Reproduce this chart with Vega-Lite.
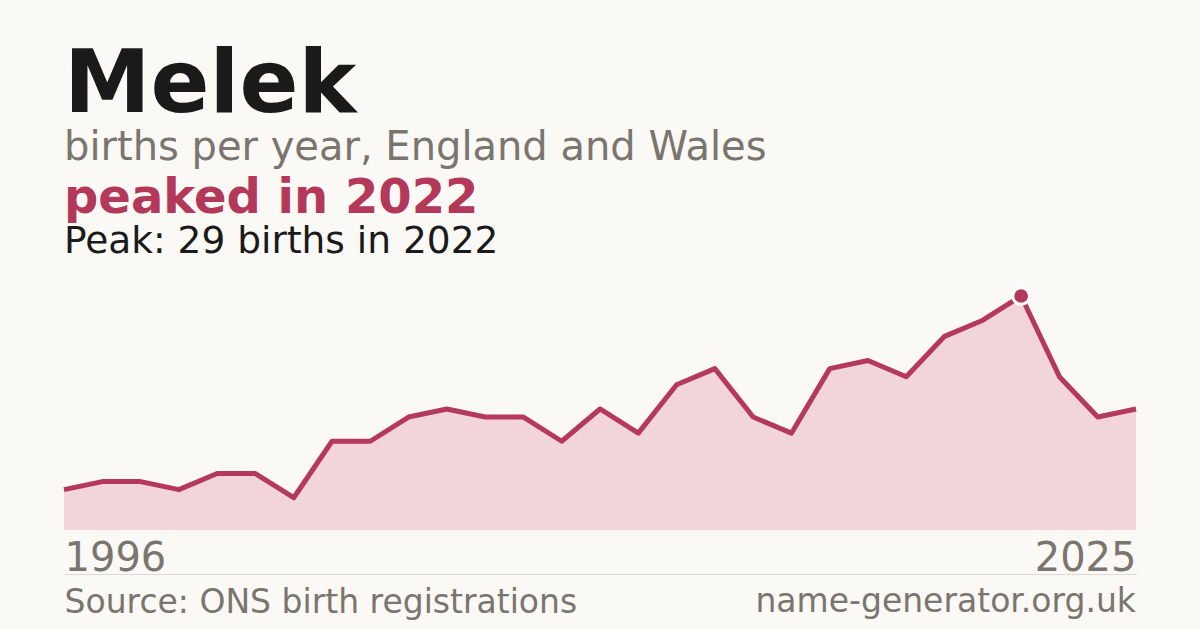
{
  "$schema": "https://vega.github.io/schema/vega-lite/v6.json",
  "background": "#faf9f5",
  "padding": {"left": 61, "right": 61, "top": 42, "bottom": 10},
  "config": {
    "font": "DejaVu Sans",
    "concat": {"spacing": 0},
    "view": {"stroke": null}
  },
  "title": {
    "text": "Melek",
    "subtitle": "births per year, England and Wales",
    "anchor": "start",
    "frame": "group",
    "font": "DejaVu Sans",
    "fontSize": 87,
    "fontWeight": "bold",
    "color": "#1a1a1a",
    "subtitleFont": "DejaVu Sans",
    "subtitleFontSize": 40,
    "subtitleColor": "#7a756e",
    "subtitlePadding": -2,
    "offset": 6
  },
  "vconcat": [
    {
      "title": {
        "text": "peaked in 2022",
        "subtitle": "Peak: 29 births in 2022",
        "anchor": "start",
        "frame": "group",
        "font": "DejaVu Sans",
        "fontSize": 48,
        "fontWeight": "bold",
        "color": "#b3385a",
        "subtitleFont": "DejaVu Sans",
        "subtitleFontSize": 37.5,
        "subtitleColor": "#1a1a1a",
        "subtitlePadding": 0,
        "offset": 21
      },
      "vconcat": [
        {
          "width": 1072,
          "height": 234,
          "title": {
            "text": "name-generator.org.uk",
            "orient": "bottom",
            "anchor": "end",
            "frame": "group",
            "font": "DejaVu Sans",
            "fontSize": 33,
            "fontWeight": "normal",
            "color": "#7a756e",
            "offset": -33
          },
          "data": {
            "values": [
              {"year": "1996", "births": 5},
              {"year": "1997", "births": 6},
              {"year": "1999", "births": 6},
              {"year": "2000", "births": 5},
              {"year": "2001", "births": 7},
              {"year": "2002", "births": 7},
              {"year": "2003", "births": 4},
              {"year": "2004", "births": 11},
              {"year": "2005", "births": 11},
              {"year": "2006", "births": 14},
              {"year": "2007", "births": 15},
              {"year": "2008", "births": 14},
              {"year": "2009", "births": 14},
              {"year": "2010", "births": 11},
              {"year": "2011", "births": 15},
              {"year": "2012", "births": 12},
              {"year": "2013", "births": 18},
              {"year": "2014", "births": 20},
              {"year": "2015", "births": 14},
              {"year": "2016", "births": 12},
              {"year": "2017", "births": 20},
              {"year": "2018", "births": 21},
              {"year": "2019", "births": 19},
              {"year": "2020", "births": 24},
              {"year": "2021", "births": 26},
              {"year": "2022", "births": 29},
              {"year": "2023", "births": 19},
              {"year": "2024", "births": 14},
              {"year": "2025", "births": 15}
            ]
          },
          "encoding": {
            "x": {
              "field": "year",
              "type": "ordinal",
              "sort": null,
              "scale": {"type": "point", "padding": 0},
              "axis": {
                "values": ["1996", "2025"],
                "labelAngle": 0,
                "ticks": false,
                "tickSize": 0,
                "grid": false,
                "domain": true,
                "domainColor": "#dcdad5",
                "domainWidth": 1,
                "offset": 44,
                "labelPadding": -4,
                "labelBaseline": "alphabetic",
                "labelAlign": {"condition": {"test": "datum.value == '1996'", "value": "left"}, "value": "right"},
                "labelFont": "DejaVu Sans",
                "labelFontSize": 40,
                "labelColor": "#7a756e",
                "labelOverlap": false,
                "title": "Source: ONS birth registrations",
                "titleAnchor": "start",
                "titleAlign": "left",
                "titleFont": "DejaVu Sans",
                "titleFontSize": 33,
                "titleFontWeight": "normal",
                "titleColor": "#7a756e",
                "titlePadding": 8
              }
            },
            "y": {
              "field": "births",
              "type": "quantitative",
              "scale": {"domain": [0, 29], "nice": false, "zero": true},
              "axis": null
            }
          },
          "layer": [
            {"mark": {"type": "area", "color": "#f2d5db", "opacity": 1}},
            {"mark": {"type": "line", "color": "#b5395c", "strokeWidth": 5, "strokeJoin": "round", "strokeCap": "butt"}},
            {
              "transform": [{"filter": "datum.year == '2022'"}],
              "mark": {"type": "point", "filled": true, "shape": "circle", "size": 280, "color": "#b3385a", "stroke": "#ffffff", "strokeWidth": 3, "opacity": 1}
            }
          ]
        }
      ]
    }
  ]
}
